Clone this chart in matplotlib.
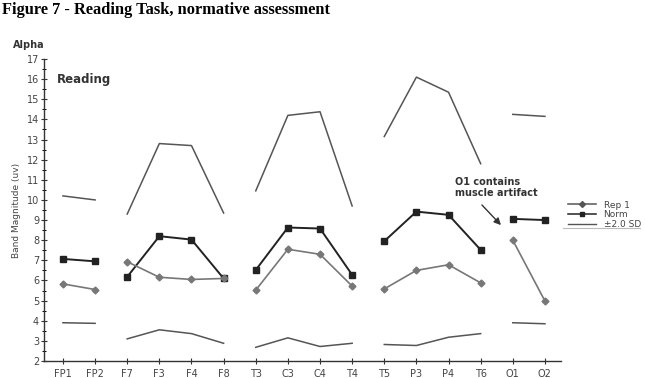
import matplotlib
matplotlib.use("Agg")
import matplotlib.pyplot as plt
import numpy as np
from matplotlib.ticker import MultipleLocator

channels = ["FP1", "FP2", "F7", "F3", "F4", "F8", "T3", "C3", "C4", "T4",
            "T5", "P3", "P4", "T6", "O1", "O2"]
groups = [(0, 2), (2, 6), (6, 10), (10, 14), (14, 16)]

rep1 = [5.83, 5.55, 6.93, 6.16, 6.05, 6.1, 5.52, 7.55, 7.3, 5.72,
        5.58, 6.5, 6.78, 5.88, 8.0, 4.98]
norm = [7.07, 6.95, 6.18, 8.2, 8.03, 6.1, 6.52, 8.63, 8.58, 6.28,
        7.95, 9.42, 9.26, 7.52, 9.06, 9.0]
sd_upper = [10.2, 10.0, 9.3, 12.8, 12.7, 9.35, 10.45, 14.2, 14.38, 9.7,
            13.15, 16.1, 15.35, 11.8, 14.25, 14.15]
sd_lower = [3.9, 3.87, 3.1, 3.55, 3.36, 2.88, 2.68, 3.15, 2.72, 2.88,
            2.82, 2.77, 3.18, 3.36, 3.9, 3.85]

fig = plt.figure(figsize=(6.45, 3.78), dpi=100)
ax = fig.add_axes([44/645, 1-361/378, (561-44)/645, (361-59)/378])

x = np.arange(len(channels))
for a, b in groups:
    xs = x[a:b]
    ax.plot(xs, sd_upper[a:b], color="#555555", lw=1.1)
    ax.plot(xs, sd_lower[a:b], color="#555555", lw=1.1)
    ax.plot(xs, norm[a:b], color="#222222", lw=1.4, marker="s", ms=4)
    ax.plot(xs, rep1[a:b], color="#777777", lw=1.2, marker="D", ms=3.5)

# legend proxies
h1, = ax.plot([], [], color="#555555", lw=1.1, marker="D", ms=3, label="Rep 1")
h2, = ax.plot([], [], color="#222222", lw=1.1, marker="s", ms=3, label="Norm")
h3, = ax.plot([], [], color="#555555", lw=1.0, label="±2.0 SD")
leg = fig.legend(handles=[h1, h2, h3], loc="upper left", bbox_to_anchor=(563/645, 1-196/378),
                 frameon=False, fontsize=6.5, handlelength=3.2, labelspacing=0.1,
                 borderpad=0, handletextpad=0.8, labelcolor="#444444")
fig.add_artist(plt.Line2D([563/645, 640/645], [1-228/378, 1-228/378], color="#bbbbbb", lw=0.8))

ax.set_xlim(-0.59, 15.5)
ax.set_ylim(2, 17)
ax.set_xticks(x)
ax.set_xticklabels(channels)
ax.yaxis.set_major_locator(MultipleLocator(1))
ax.yaxis.set_minor_locator(MultipleLocator(0.5))
ax.tick_params(axis="both", direction="inout", length=5, width=0.8, colors="#333333",
               labelsize=7, labelcolor="#444444")
ax.tick_params(axis="y", which="minor", direction="inout", length=3, width=0.7)
ax.tick_params(axis="y", pad=1)
for s in ["top", "right"]:
    ax.spines[s].set_visible(False)
for s in ["left", "bottom"]:
    ax.spines[s].set_color("#333333")
    ax.spines[s].set_linewidth(1.0)

ax.set_ylabel("Band Magnitude (uv)", fontsize=6.5, color="#444444", labelpad=4)

fig.text(2/645, 1-10/378, "Figure 7 - Reading Task, normative assessment",
         family="Liberation Serif", fontweight="bold", fontsize=11.8, va="center", ha="left")
fig.text(13/645, 1-45/378, "Alpha", fontsize=7, fontweight="bold", color="#333333",
         va="center", ha="left")
ax.text(-0.2, 16.0, "Reading", fontsize=8.5, fontweight="bold", color="#333333",
        va="center", ha="left")
ax.annotate("", xy=(13.69, 8.65), xytext=(12.98, 9.85),
            arrowprops=dict(arrowstyle="-|>", color="#333333", lw=1.0, mutation_scale=10))
ax.text(12.2, 10.6, "O1 contains\nmuscle artifact", fontsize=7, fontweight="bold",
        color="#333333", va="center", ha="left", linespacing=1.1)

fig.savefig("out.png", dpi=100)
